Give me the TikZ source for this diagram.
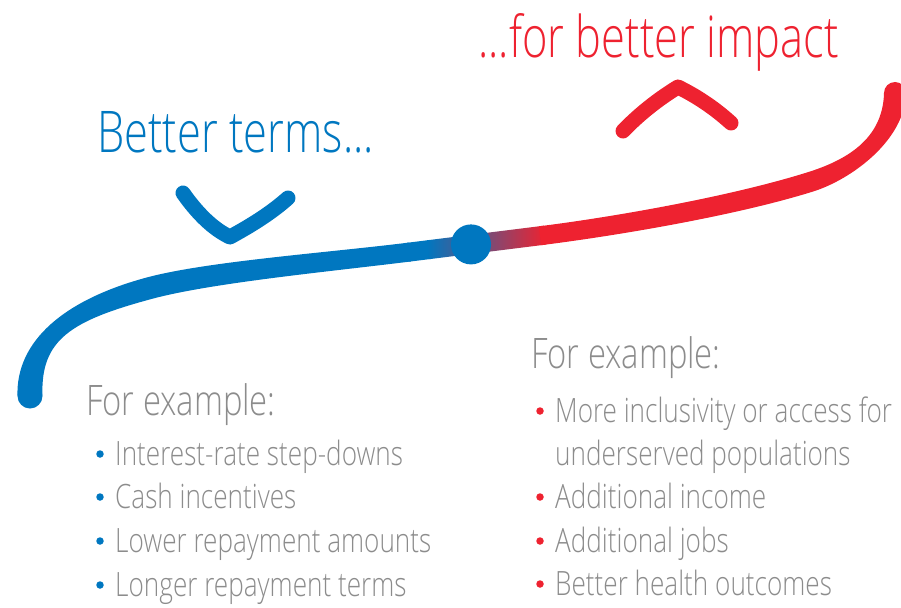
\documentclass[tikz,border=0pt]{standalone}
\usepackage{fontspec}
\IfFontExistsTF{Open Sans Light}{%
  \setmainfont{Open Sans Light}[FakeStretch=0.78]%
  \newfontfamily\titlefont{Open Sans Light}[FakeStretch=0.755]}{%
  \setmainfont{Open Sans}[FakeStretch=0.78]%
  \newfontfamily\titlefont{Open Sans}[FakeStretch=0.755]}
\usetikzlibrary{calc}
\definecolor{myblue}{RGB}{0,119,192}
\definecolor{myred}{RGB}{238,34,48}
\definecolor{txtgray}{RGB}{140,140,140}
\newcommand\mkoff[3]{%
 \coordinate (#10p) at ($(#10)!#2!90:(#11)$);
 \coordinate (#11p) at ($(#11)!#2!-90:(#10)$);
 \coordinate (#12p) at ($(#12)!#3!90:(#13)$);
 \coordinate (#13p) at ($(#13)!#3!-90:(#12)$);
 \coordinate (#10m) at ($(#10)!#2!-90:(#11)$);
 \coordinate (#11m) at ($(#11)!#2!90:(#10)$);
 \coordinate (#12m) at ($(#12)!#3!-90:(#13)$);
 \coordinate (#13m) at ($(#13)!#3!90:(#12)$);
}
\begin{document}
\begin{tikzpicture}[x=1pt,y=-1pt,
  title/.style={anchor=base west,inner sep=0pt,font=\titlefont\fontsize{57.5}{57.5}\selectfont},
  hdr/.style={anchor=base west,inner sep=0pt,text=txtgray,font=\fontsize{42}{42}\selectfont},
  item/.style={anchor=base west,inner sep=0pt,text=txtgray,font=\fontsize{33.5}{33.5}\selectfont},
  bul/.style={circle,inner sep=0pt,minimum size=7.5pt},
  chev/.style={line width=15pt,line cap=round,line join=round}]
\useasboundingbox (0,0) rectangle (901,607);
\clip (0,0) rectangle (901,607);
% centre line control points
\coordinate (A0) at (30,396);  \coordinate (A1) at (28,340);
\coordinate (A2) at (68,310);  \coordinate (A3) at (150,288);
\coordinate (B0) at (150,288); \coordinate (B1) at (210,272);
\coordinate (B2) at (330,262); \coordinate (B3) at (410,252);
\coordinate (C0) at (540,235.75); \coordinate (C1) at (610,227);
\coordinate (C2) at (730,207); \coordinate (C3) at (810,182);
\coordinate (D0) at (810,182); \coordinate (D1) at (848.2,170.1);
\coordinate (D2) at (894,140); \coordinate (D3) at (895,93);
\mkoff{A}{12.5pt}{11pt}
\mkoff{B}{11pt}{9.5pt}
\mkoff{C}{9.5pt}{10pt}
\mkoff{D}{10pt}{11pt}
% blue part
\fill[myblue] (A0p) .. controls (A1p) and (A2p) .. (A3p)
  .. controls (B1p) and (B2p) .. (B3p) -- (B3m)
  .. controls (B2m) and (B1m) .. (B0m)
  .. controls (A2m) and (A1m) .. (A0m) -- cycle;
\fill[myblue] (A0) circle[radius=12.5pt];
% straight middle part
\coordinate (E0) at (408,252.25); \coordinate (E1) at (430,249.5);
\fill[myblue] ($(E0)!9.5pt!90:(E1)$) -- ($(E1)!9.5pt!-90:(E0)$) -- ($(E1)!9.5pt!90:(E0)$) -- ($(E0)!9.5pt!-90:(E1)$) -- cycle;
\coordinate (G0) at (428,249.75); \coordinate (G1) at (545,235.125);
\shade[left color=myblue,right color=myred] ($(G0)!9.5pt!90:(G1)$) -- ($(G1)!9.5pt!-90:(G0)$) -- ($(G1)!9.5pt!90:(G0)$) -- ($(G0)!9.5pt!-90:(G1)$) -- cycle;
% red part
\fill[myred] (C0p) .. controls (C1p) and (C2p) .. (C3p)
  .. controls (D1p) and (D2p) .. (D3p) -- (D3m)
  .. controls (D2m) and (D1m) .. (D0m)
  .. controls (C2m) and (C1m) .. (C0m) -- cycle;
\fill[myred] (D3) circle[radius=11pt];
% dot
\node[circle,fill=myblue,inner sep=0pt,minimum size=40pt] (dot) at (471,244.4) {};
% chevrons
\draw[myblue,chev] (183,193) .. controls (197,213) and (213,229) .. (230,237)
  .. controls (250,226) and (270,214) .. (288,198);
\draw[myred,chev] (623,131) .. controls (639.4,114) and (657.8,99.4) .. (678,87)
  .. controls (697.4,96.5) and (715,108.5) .. (731,123);
% titles
\node[title,text=myred] (impact) at (478,58) {...for better impact};
\node[title,text=myblue] (terms) at (97,152) {Better terms...};
% left list
\node[hdr] (lhdr) at (86,415) {For example:};
\node[bul,fill=myblue] (lb1) at (100,454) {};
\node[item] (li1) at (115,465) {Interest-rate step-downs};
\node[bul,fill=myblue] (lb2) at (100,497) {};
\node[item] (li2) at (115,508) {Cash incentives};
\node[bul,fill=myblue] (lb3) at (100,541) {};
\node[item] (li3) at (115,552) {Lower repayment amounts};
\node[bul,fill=myblue] (lb4) at (100,585) {};
\node[item] (li4) at (115,596) {Longer repayment terms};
% right list
\node[hdr] (rhdr) at (531,368) {For example:};
\node[bul,fill=myred] (rb1) at (540,411) {};
\node[item] (ri1) at (555,422) {More inclusivity or access for};
\node[item] (ri1b) at (555,465) {underserved populations};
\node[bul,fill=myred] (rb2) at (540,497) {};
\node[item] (ri2) at (555,508) {Additional income};
\node[bul,fill=myred] (rb3) at (540,541) {};
\node[item] (ri3) at (555,552) {Additional jobs};
\node[bul,fill=myred] (rb4) at (540,584) {};
\node[item] (ri4) at (555,595) {Better health outcomes};
\end{tikzpicture}
\end{document}
